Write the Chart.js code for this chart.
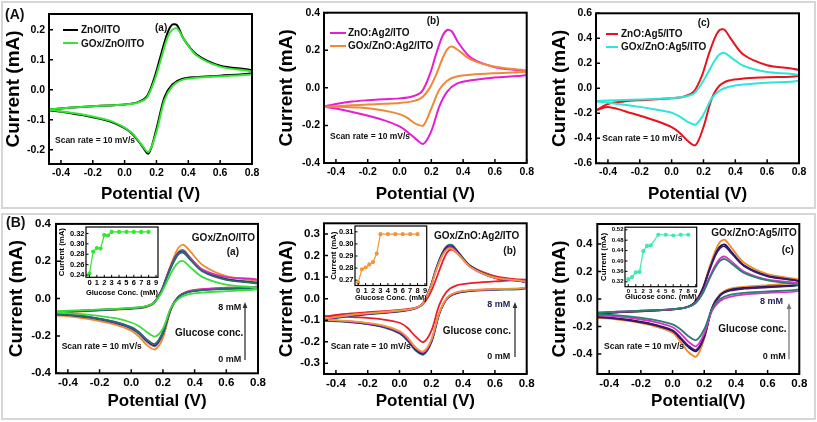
<!DOCTYPE html>
<html><head><meta charset="utf-8">
<script src="https://cdn.jsdelivr.net/npm/chart.js@4.4.0/dist/chart.umd.min.js"></script>
<style>
body{margin:0;background:#fff;}
#wrap{position:relative;width:817px;height:422px;overflow:hidden;font-family:"Liberation Sans",Arial,sans-serif;background:#fff;}
.box{position:absolute;border:2px solid #d6d6d6;box-sizing:border-box;}
canvas{position:absolute;}
.t{position:absolute;font-weight:bold;white-space:nowrap;color:#111;line-height:1;}
.ln{position:absolute;height:2px;}
svg{position:absolute;overflow:visible;}
</style></head><body><div id="wrap"><div class="box" style="left:1px;top:1px;width:815px;height:208px"></div><div class="box" style="left:1px;top:213px;width:815px;height:207px"></div></div>
<script>
// ---------- DATA ----------
// potential grid (V): forward scan then reverse scan
const potFwd = [-0.48,-0.4,-0.3,-0.2,-0.1,0.0,0.08,0.14,0.19,0.23,0.27,0.3,0.33,0.37,0.45,0.6,0.8];
const potRev = [0.8,0.6,0.45,0.36,0.3,0.25,0.2,0.15,0.1,0.05,0.0,-0.1,-0.25,-0.4,-0.48];
const xTicksMain = [-0.4,-0.2,0.0,0.2,0.4,0.6,0.8];

// Panel A(a)
const aZnO_f = [-0.066,-0.062,-0.058,-0.055,-0.052,-0.049,-0.042,-0.022,0.045,0.12,0.19,0.217,0.214,0.17,0.118,0.08,0.065];
const aZnO_r = [0.055,0.047,0.042,0.036,0.018,-0.025,-0.13,-0.212,-0.18,-0.148,-0.128,-0.104,-0.086,-0.073,-0.068];
const aGOx_f = [-0.066,-0.062,-0.058,-0.055,-0.052,-0.049,-0.043,-0.026,0.035,0.105,0.175,0.2,0.204,0.17,0.115,0.077,0.06];
const aGOx_r = [0.052,0.045,0.04,0.033,0.012,-0.035,-0.14,-0.207,-0.178,-0.146,-0.126,-0.102,-0.084,-0.072,-0.067];
// Panel A(b)
const bAg2_f = [-0.1,-0.086,-0.073,-0.066,-0.061,-0.056,-0.046,-0.02,0.07,0.18,0.275,0.308,0.3,0.24,0.16,0.11,0.086];
const bAg2_r = [0.068,0.055,0.04,0.022,-0.02,-0.1,-0.23,-0.298,-0.27,-0.235,-0.205,-0.172,-0.138,-0.11,-0.1];
const bGOxAg2_f = [-0.102,-0.098,-0.093,-0.089,-0.085,-0.08,-0.072,-0.052,0.0,0.07,0.155,0.205,0.22,0.2,0.15,0.112,0.092];
const bGOxAg2_r = [0.086,0.078,0.07,0.06,0.038,-0.01,-0.11,-0.2,-0.19,-0.16,-0.14,-0.12,-0.105,-0.1,-0.1];
// Panel A(c)
const cAg5_f = [-0.18,-0.125,-0.105,-0.095,-0.088,-0.08,-0.065,-0.025,0.1,0.26,0.4,0.465,0.47,0.4,0.27,0.185,0.145];
const cAg5_r = [0.1,0.088,0.078,0.062,0.02,-0.09,-0.31,-0.455,-0.42,-0.355,-0.31,-0.26,-0.2,-0.15,-0.18];
const cGOxAg5_f = [-0.102,-0.098,-0.093,-0.089,-0.084,-0.078,-0.068,-0.042,0.04,0.13,0.22,0.27,0.284,0.25,0.18,0.13,0.106];
const cGOxAg5_r = [0.06,0.045,0.03,0.012,-0.02,-0.085,-0.21,-0.29,-0.268,-0.225,-0.195,-0.17,-0.14,-0.115,-0.105];

// Panel B(a) GOx/ZnO/ITO with glucose
const BaGreen_f = [-0.068,-0.065,-0.062,-0.058,-0.055,-0.05,-0.043,-0.025,0.03,0.1,0.165,0.195,0.2,0.17,0.115,0.075,0.058];
const BaGreen_r = [0.05,0.04,0.032,0.022,0.0,-0.05,-0.16,-0.203,-0.18,-0.148,-0.128,-0.105,-0.088,-0.078,-0.075];
const BaTeal_f = [-0.075,-0.07,-0.065,-0.061,-0.057,-0.052,-0.045,-0.025,0.04,0.125,0.2,0.238,0.245,0.21,0.145,0.1,0.08];
const BaTeal_r = [0.058,0.052,0.045,0.035,0.01,-0.055,-0.18,-0.243,-0.22,-0.18,-0.153,-0.125,-0.1,-0.086,-0.083];
const BaNavy_f = [-0.075,-0.07,-0.065,-0.061,-0.057,-0.052,-0.045,-0.024,0.042,0.13,0.207,0.246,0.252,0.216,0.15,0.103,0.082];
const BaNavy_r = [0.06,0.054,0.047,0.036,0.01,-0.056,-0.185,-0.25,-0.226,-0.185,-0.157,-0.128,-0.102,-0.087,-0.084];
const BaMag_f = [-0.073,-0.068,-0.064,-0.06,-0.056,-0.051,-0.044,-0.024,0.04,0.127,0.203,0.242,0.248,0.215,0.155,0.115,0.1];
const BaMag_r = [0.065,0.058,0.05,0.038,0.012,-0.054,-0.18,-0.245,-0.222,-0.182,-0.155,-0.126,-0.1,-0.085,-0.082];
const BaGray_f = [-0.076,-0.071,-0.066,-0.062,-0.058,-0.053,-0.046,-0.025,0.043,0.133,0.212,0.252,0.26,0.222,0.155,0.105,0.085];
const BaGray_r = [0.062,0.055,0.048,0.037,0.01,-0.057,-0.19,-0.255,-0.232,-0.19,-0.162,-0.132,-0.105,-0.089,-0.086];
const BaOrange_f = [-0.08,-0.074,-0.068,-0.064,-0.06,-0.055,-0.048,-0.028,0.04,0.135,0.225,0.275,0.288,0.255,0.18,0.12,0.092];
const BaOrange_r = [0.065,0.058,0.05,0.04,0.01,-0.06,-0.21,-0.272,-0.25,-0.205,-0.172,-0.14,-0.112,-0.095,-0.09];

// Panel B(b) GOx/ZnO:Ag2/ITO with glucose
const BbRed_f = [-0.085,-0.075,-0.068,-0.063,-0.058,-0.052,-0.045,-0.03,0.02,0.09,0.17,0.215,0.228,0.205,0.15,0.105,0.086];
const BbRed_r = [0.09,0.08,0.072,0.062,0.035,-0.03,-0.15,-0.202,-0.175,-0.135,-0.112,-0.097,-0.087,-0.082,-0.08];
const BbOrange_f = [-0.095,-0.085,-0.075,-0.068,-0.062,-0.055,-0.047,-0.028,0.04,0.13,0.2,0.228,0.232,0.205,0.145,0.098,0.078];
const BbOrange_r = [0.052,0.045,0.04,0.03,0.005,-0.065,-0.19,-0.245,-0.225,-0.18,-0.15,-0.125,-0.108,-0.1,-0.098];
const BbMag_f = [-0.097,-0.087,-0.077,-0.07,-0.064,-0.057,-0.048,-0.028,0.042,0.133,0.205,0.233,0.237,0.208,0.145,0.096,0.075];
const BbMag_r = [0.05,0.043,0.038,0.028,0.003,-0.068,-0.195,-0.25,-0.23,-0.185,-0.155,-0.128,-0.11,-0.102,-0.1];
const BbNavy_f = [-0.098,-0.088,-0.078,-0.071,-0.065,-0.058,-0.049,-0.028,0.044,0.137,0.21,0.24,0.243,0.212,0.148,0.097,0.075];
const BbNavy_r = [0.05,0.043,0.037,0.027,0.002,-0.07,-0.2,-0.255,-0.235,-0.19,-0.158,-0.13,-0.112,-0.103,-0.101];
const BbTeal_f = [-0.1,-0.09,-0.08,-0.073,-0.067,-0.06,-0.05,-0.029,0.046,0.14,0.215,0.246,0.25,0.216,0.15,0.098,0.076];
const BbTeal_r = [0.048,0.041,0.035,0.025,0.0,-0.072,-0.205,-0.26,-0.24,-0.195,-0.162,-0.133,-0.114,-0.105,-0.103];

// Panel B(c) GOx/ZnO:Ag5/ITO with glucose
const BcTeal_f = [-0.1,-0.095,-0.09,-0.085,-0.08,-0.073,-0.063,-0.035,0.04,0.14,0.23,0.278,0.29,0.26,0.19,0.135,0.1];
const BcTeal_r = [0.07,0.055,0.045,0.03,0.0,-0.07,-0.22,-0.298,-0.27,-0.22,-0.185,-0.155,-0.13,-0.115,-0.11];
const BcMag_f = [-0.1,-0.095,-0.09,-0.085,-0.08,-0.073,-0.063,-0.034,0.045,0.15,0.245,0.295,0.308,0.275,0.2,0.14,0.11];
const BcMag_r = [0.06,0.045,0.032,0.015,-0.015,-0.085,-0.25,-0.343,-0.31,-0.25,-0.205,-0.17,-0.14,-0.122,-0.118];
const BcPurple_f = [-0.105,-0.098,-0.093,-0.088,-0.082,-0.075,-0.063,-0.028,0.07,0.2,0.315,0.37,0.382,0.335,0.24,0.165,0.128];
const BcPurple_r = [0.1,0.085,0.075,0.06,0.025,-0.065,-0.27,-0.37,-0.34,-0.28,-0.228,-0.19,-0.155,-0.135,-0.13];
const BcNavy_f = [-0.107,-0.1,-0.094,-0.089,-0.083,-0.075,-0.063,-0.027,0.073,0.207,0.325,0.382,0.395,0.345,0.245,0.168,0.13];
const BcNavy_r = [0.105,0.09,0.08,0.064,0.028,-0.065,-0.275,-0.38,-0.35,-0.288,-0.233,-0.193,-0.158,-0.137,-0.132];
const BcOrange_f = [-0.11,-0.102,-0.096,-0.09,-0.084,-0.076,-0.063,-0.025,0.08,0.22,0.35,0.415,0.43,0.375,0.265,0.18,0.14];
const BcOrange_r = [0.122,0.1,0.088,0.074,0.035,-0.06,-0.29,-0.418,-0.385,-0.31,-0.245,-0.202,-0.165,-0.142,-0.138];

// Insets: peak current vs glucose concentration
const glucA = [0,0.5,1,1.5,2,2.5,3,4,5,6,7,8];
const currA = [0.243,0.285,0.292,0.291,0.317,0.316,0.323,0.323,0.323,0.323,0.323,0.323];
const glucB = [0,0.5,1,1.5,2,2.5,3,4,5,6,7,8];
const currB = [0.268,0.279,0.2805,0.283,0.285,0.292,0.308,0.308,0.308,0.308,0.308,0.308];
const glucC = [0,0.5,1,1.5,2,2.5,3,4,5,6,7,8];
const currC = [0.330,0.338,0.356,0.358,0.438,0.458,0.460,0.501,0.501,0.498,0.501,0.501];

// ---------- RENDER ----------
const wrap = document.getElementById('wrap');
const FAM = '"Liberation Sans", Arial, sans-serif';
Chart.defaults.font.family = FAM;

function loop(f, r){ return potFwd.map((x,i)=>({x, y:f[i]})).concat(potRev.map((x,i)=>({x, y:r[i]}))); }
function cv(f, r, color, w){ return {data:loop(f,r), borderColor:color, backgroundColor:color, showLine:true, pointRadius:0, borderWidth:w||2, tension:0.3, fill:false}; }

const framePlugin = {id:'frame', afterDatasetsDraw(chart, args, o){
  const {ctx, chartArea:a, scales:{x,y}} = chart;
  ctx.save(); ctx.strokeStyle='#000'; ctx.lineWidth=o.lw;
  ctx.strokeRect(a.left, a.top, a.right-a.left, a.bottom-a.top);
  ctx.lineWidth=o.tw; ctx.beginPath();
  x.ticks.forEach(t=>{const p=x.getPixelForValue(t.value); ctx.moveTo(p,a.bottom); ctx.lineTo(p,a.bottom-o.len);});
  y.ticks.forEach(t=>{const p=y.getPixelForValue(t.value); ctx.moveTo(a.left,p); ctx.lineTo(a.left+o.len,p);});
  ctx.stroke(); ctx.restore();
}};

function panel(o){
  const c=document.createElement('canvas');
  c.width=o.cw; c.height=o.ch;
  c.style.left=o.cl+'px'; c.style.top=o.ct+'px'; c.style.width=o.cw+'px'; c.style.height=o.ch+'px';
  wrap.appendChild(c);
  const yW=o.L-o.cl, xH=o.ct+o.ch-o.B;
  const tf={family:FAM, weight:'bold', size:o.tick};
  new Chart(c,{type:'scatter', data:{datasets:o.datasets}, plugins:[framePlugin], options:{
    responsive:false, animation:false, devicePixelRatio:1,
    layout:{padding:{left:0, top:o.T-o.ct, right:o.cl+o.cw-o.R, bottom:0}},
    plugins:{legend:{display:false}, tooltip:{enabled:false}, frame:{lw:o.lw||2, tw:o.tw||1.5, len:o.len||4}},
    scales:{
      x:{type:'linear', min:o.xr[0], max:o.xr[1],
        afterFit:s=>{s.height=xH;},
        afterBuildTicks:s=>{s.ticks=o.xt.map(v=>({value:v}));},
        grid:{display:false, drawTicks:false}, border:{display:false},
        ticks:{font:tf, color:'#000', padding:o.xpad, maxRotation:0, autoSkip:false, callback:v=>o.xf(v)},
        title:{display:true, text:o.xtitle, color:'#000', font:{family:FAM, weight:'bold', size:o.xts, lineHeight:1}, padding:{top:0, bottom:o.xtb}}},
      y:{type:'linear', min:o.yr[0], max:o.yr[1],
        afterFit:s=>{s.width=yW;},
        afterBuildTicks:s=>{s.ticks=o.yt.map(v=>({value:v}));},
        grid:{display:false, drawTicks:false}, border:{display:false},
        ticks:{font:tf, color:'#000', padding:o.ypad, autoSkip:false, callback:v=>o.yf(v)},
        title:{display:true, text:o.ytitle, color:'#000', font:{family:FAM, weight:'bold', size:o.yts, lineHeight:1}, padding:{top:o.ytp, bottom:0}}}
    }}});
}
const f1=v=>(Math.abs(v)<1e-9?0:v).toFixed(1), f2=v=>v.toFixed(2), f0=v=>String(Math.round(v));

function mainPanel(o){
  panel(Object.assign({xr:[-0.475,0.8], xt:xTicksMain, xf:f1, yf:f1, xtitle:'Potential (V)', ytitle:'Current (mA)', xts:17, yts:19}, o));
}

// A row
mainPanel({cl:0, ct:0, cw:270, ch:206, L:49, T:14, R:252, B:164, yr:[-0.247,0.252], yt:[-0.2,-0.1,0,0.1,0.2], tick:10.5, xpad:3, ypad:4, ytp:4.5, xtb:3,
  datasets:[cv(aGOx_f,aGOx_r,'#33e633'), cv(aZnO_f,aZnO_r,'#000000')]});
mainPanel({cl:270, ct:0, cw:270, ch:206, L:324, T:12.7, R:526.7, B:163, yr:[-0.4,0.4], yt:[-0.4,-0.2,0,0.2,0.4], tick:10.5, xpad:3, ypad:4, ytp:7.5, xtb:3,
  datasets:[cv(bGOxAg2_f,bGOxAg2_r,'#f0883a'), cv(bAg2_f,bAg2_r,'#e61ed2')]});
mainPanel({cl:540, ct:0, cw:277, ch:206, L:596, T:13.3, R:799, B:163.3, yr:[-0.6,0.6], yt:[-0.6,-0.4,-0.2,0,0.2,0.4,0.6], tick:10.5, xpad:3, ypad:4, ytp:10, xtb:3,
  datasets:[cv(cGOxAg5_f,cGOxAg5_r,'#2ee6d6'), cv(cAg5_f,cAg5_r,'#e6141e')]});
// B row
mainPanel({cl:0, ct:212, cw:270, ch:206, L:56, T:223.3, R:258, B:373.3, yr:[-0.4,0.4], yt:[-0.4,-0.2,0,0.2,0.4], tick:11.5, xpad:2.5, ypad:5, ytp:7.5, xtb:8,
  datasets:[cv(BaGreen_f,BaGreen_r,'#3cdc3c',1.8), cv(BaTeal_f,BaTeal_r,'#1f6e6e',1.8), cv(BaMag_f,BaMag_r,'#d92bc8',1.8), cv(BaNavy_f,BaNavy_r,'#1a1a50',1.8), cv(BaGray_f,BaGray_r,'#7a7a7a',1.8), cv(BaOrange_f,BaOrange_r,'#f08a30',1.8)]});
mainPanel({cl:270, ct:212, cw:270, ch:206, L:324, T:223.3, R:526.7, B:374, yr:[-0.35,0.35], yt:[-0.3,-0.2,-0.1,0,0.1,0.2,0.3], tick:11.5, xpad:2.5, ypad:4, ytp:7.2, xtb:8,
  datasets:[cv(BbOrange_f,BbOrange_r,'#f0963c',1.8), cv(BbMag_f,BbMag_r,'#d02cc8',1.8), cv(BbNavy_f,BbNavy_r,'#1c1c5a',1.8), cv(BbTeal_f,BbTeal_r,'#2a7a6a',1.8), cv(BbRed_f,BbRed_r,'#e8202c',1.8)]});
mainPanel({cl:540, ct:212, cw:277, ch:206, L:597.3, T:224, R:799.3, B:374, yr:[-0.545,0.545], yt:[-0.4,-0.2,0,0.2,0.4], tick:11.5, xpad:2.5, ypad:5, ytp:9.8, xtb:8, xtitle:'Potential(V)',
  datasets:[cv(BcTeal_f,BcTeal_r,'#2a8070',1.8), cv(BcMag_f,BcMag_r,'#e030c8',1.8), cv(BcPurple_f,BcPurple_r,'#3a1a70',1.8), cv(BcNavy_f,BcNavy_r,'#161660',1.8), cv(BcOrange_f,BcOrange_r,'#f08a2a',1.8)]});

// Insets
function inset(o, xs, ys, color){
  panel(Object.assign({xt:[0,1,2,3,4,5,6,7,8,9], xf:f0, yf:f2, ytitle:'Current (mA)', lw:1.2, tw:1, len:2.5,
    datasets:[{data:xs.map((x,i)=>({x,y:ys[i]})), borderColor:color, backgroundColor:color, showLine:true, pointRadius:1.5, borderWidth:1.2, tension:0}]}, o));
}
inset({cl:55, ct:221, cw:110, ch:81, L:86, T:225, R:158, B:277.3, xr:[-0.47,9.27], yr:[0.2357,0.3324], yt:[0.24,0.26,0.28,0.30,0.32], tick:7.5, xpad:1.2, ypad:1.5, xtitle:'Glucose Conc. (mM)', xts:8, yts:7.8, ytp:3.2, xtb:5.5}, glucA, currA, '#33e633');
inset({cl:325, ct:220, cw:110, ch:85, L:355, T:224, R:426.7, B:285.5, xr:[-0.43,9.23], yr:[0.2656,0.3148], yt:[0.27,0.28,0.29,0.30,0.31], tick:7.5, xpad:1, ypad:1.5, xtitle:'Glucose Conc. (mM)', xts:8, yts:7.8, ytp:5, xtb:3.5}, glucB, currB, '#f0963c');
inset({cl:597, ct:222, cw:107, ch:82, L:625, T:226.7, R:696.7, B:286.7, xr:[-0.44,9.13], yr:[0.301,0.53], yt:[0.32,0.36,0.40,0.44,0.48,0.52], tick:6, xpad:1, ypad:1.5, xtitle:'Glucose conc. (mM)', xts:8, yts:7.8, ytp:3.2, xtb:3.5}, glucC, currC, '#40e8b0');

// ---------- TEXT ANNOTATIONS ----------
function txt(s, x, y, size, opt){
  opt=opt||{};
  const d=document.createElement('div'); d.className='t'; d.textContent=s;
  d.style.fontSize=size+'px'; d.style.top=(y-0.5*size)+'px';
  if(opt.right!=null){ d.style.right=(817-opt.right)+'px'; } else { d.style.left=x+'px'; }
  if(opt.color) d.style.color=opt.color;
  wrap.appendChild(d);
}
function seg(x1,x2,y,color){ const d=document.createElement('div'); d.className='ln'; d.style.left=x1+'px'; d.style.width=(x2-x1)+'px'; d.style.top=(y-1)+'px'; d.style.background=color; wrap.appendChild(d); }
function arrow(x,y1,y2,color){
  const ns='http://www.w3.org/2000/svg';
  const s=document.createElementNS(ns,'svg'); s.setAttribute('width','10'); s.setAttribute('height',(y1-y2+2)+'');
  s.style.left=(x-5)+'px'; s.style.top=(y2-1)+'px';
  const l=document.createElementNS(ns,'line'); l.setAttribute('x1','5'); l.setAttribute('x2','5'); l.setAttribute('y1',(y1-y2+1)+''); l.setAttribute('y2','4'); l.setAttribute('stroke',color); l.setAttribute('stroke-width','1.3');
  const p=document.createElementNS(ns,'polygon'); p.setAttribute('points','5,0 2.6,6 7.4,6'); p.setAttribute('fill',color);
  s.appendChild(l); s.appendChild(p); wrap.appendChild(s);
}

txt('(A)', 5, 14, 14);
txt('(B)', 6, 222, 14);
// A(a)
seg(63,78,29.5,'#000'); txt('ZnO/ITO', 81, 29.5, 10);
seg(63,78,43.3,'#33e633'); txt('GOx/ZnO/ITO', 81, 43.5, 10);
txt('(a)', 155, 28, 10);
txt('Scan rate = 10 mV/s', 55, 140, 8.5);
// A(b)
seg(330,346,32.7,'#e61ed2'); txt('ZnO:Ag2/ITO', 348, 33, 10);
seg(330,346,45.7,'#f0883a'); txt('GOx/ZnO:Ag2/ITO', 348, 46, 10);
txt('(b)', 426.7, 21, 10);
txt('Scan rate = 10 mV/s', 330, 136.7, 8.5);
// A(c)
seg(605.7,618.3,33.7,'#e6141e'); txt('ZnO:Ag5/ITO', 621, 34, 10);
seg(605.7,618.3,46.7,'#2ee6d6'); txt('GOx/ZnO:Ag5/ITO', 621, 47, 10);
txt('(c)', 697.7, 22.7, 10);
txt('Scan rate = 10 mV/s', 602.3, 138.3, 8.5);
// B(a)
txt('GOx/ZnO/ITO', 0, 237.7, 10, {right:255});
txt('(a)', 0, 251.7, 10, {right:239});
txt('8 mM', 218.3, 307, 9);
arrow(245, 360, 303, '#333');
txt('Glucose conc.', 175, 333.3, 10);
txt('0 mM', 218.3, 359.3, 9);
txt('Scan rate = 10 mV/s', 61.7, 346, 8.5);
// B(b)
txt('GOx/ZnO:Ag2/ITO', 0, 235.7, 10, {right:519.3});
txt('(b)', 503.3, 250.7, 10);
txt('8 mM', 487.3, 304, 9, {color:'#1e1e50'});
arrow(515, 356.7, 302.7, '#333');
txt('Glucose conc.', 442.7, 331, 10);
txt('0 mM', 487.3, 356.7, 9);
txt('Scan rate = 10 mV/s', 330.7, 346, 8.5);
// B(c)
txt('GOx/ZnO:Ag5/ITO', 0, 233.3, 10, {right:796.7});
txt('(c)', 781.7, 250, 10);
txt('8 mM', 760, 301.7, 9, {color:'#1e1e50'});
arrow(789.3, 359.3, 304, '#777');
txt('Glucose conc.', 718.3, 329.3, 10);
txt('0 mM', 762.7, 356.7, 9);
txt('Scan rate = 10 mV/s', 604, 346, 8.5);
</script></body></html>
